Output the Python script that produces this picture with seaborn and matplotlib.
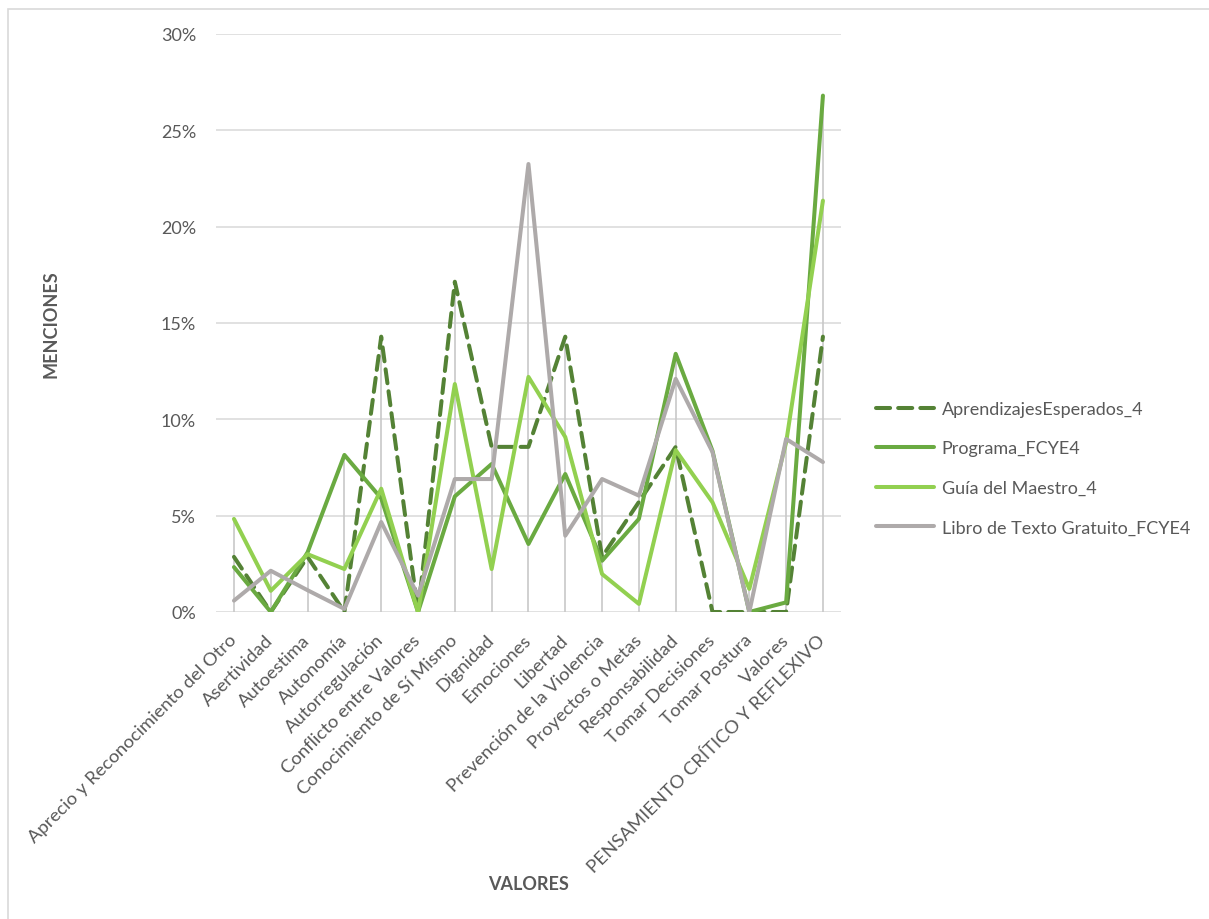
import numpy as np
import pandas as pd
import seaborn as sns
import matplotlib.pyplot as plt
from matplotlib.patches import Rectangle
from matplotlib.ticker import PercentFormatter

# Categorias (eje X)
valores = [
    "Aprecio y Reconocimiento del Otro", "Asertividad", "Autoestima", "Autonomía",
    "Autorregulación", "Conflicto entre Valores", "Conocimiento de Sí Mismo",
    "Dignidad", "Emociones", "Libertad", "Prevención de la Violencia",
    "Proyectos o Metas", "Responsabilidad", "Tomar Decisiones", "Tomar Postura",
    "Valores", "PENSAMIENTO CRÍTICO Y REFLEXIVO",
]

# Porcentaje de menciones por fuente
aprendizajes = [2.86, 0, 2.86, 0, 14.29, 0, 17.14, 8.57, 8.57, 14.29, 2.86, 5.71, 8.57, 0, 0, 0, 14.29]
programa = [2.33, 0, 3.1, 8.15, 5.9, 0, 6.0, 7.68, 3.53, 7.16, 2.66, 4.83, 13.4, 8.36, 0, 0.5, 26.8]
guia = [4.83, 1.1, 3.0, 2.23, 6.4, 0, 11.83, 2.23, 12.2, 9.08, 1.97, 0.42, 8.4, 5.69, 1.2, 8.8, 21.35]
libro = [0.59, 2.14, 1.13, 0.16, 4.67, 0.85, 6.9, 6.9, 23.25, 3.96, 6.9, 6.04, 12.1, 8.3, 0, 8.98, 7.78]

series = {
    "AprendizajesEsperados_4": aprendizajes,
    "Programa_FCYE4": programa,
    "Guía del Maestro_4": guia,
    "Libro de Texto Gratuito_FCYE4": libro,
}
colores = {
    "AprendizajesEsperados_4": "#548235",
    "Programa_FCYE4": "#6AAA41",
    "Guía del Maestro_4": "#92D050",
    "Libro de Texto Gratuito_FCYE4": "#AEAAAA",
}
estilos = {
    "AprendizajesEsperados_4": (3.5, 2),
    "Programa_FCYE4": "",
    "Guía del Maestro_4": "",
    "Libro de Texto Gratuito_FCYE4": "",
}

pos = np.arange(len(valores))
df = pd.concat(
    [pd.DataFrame({"pos": pos, "pct": v, "serie": k}) for k, v in series.items()],
    ignore_index=True,
)

sns.set_style("white")
plt.rcParams["font.family"] = ["Lato", "DejaVu Sans"]
gris = "#595959"

fig = plt.figure(figsize=(12.09, 9.2), dpi=100)
ax = fig.add_axes([0.1783, 0.3337, 0.5176, 0.6283])

# Lineas de proyeccion hasta el valor maximo de cada categoria
maximos = df.groupby("pos")["pct"].max()
ax.vlines(maximos.index, 0, maximos.values, color="#C8C8C8", lw=1.2, zorder=1)

sns.lineplot(
    data=df, x="pos", y="pct", hue="serie", style="serie",
    palette=colores, dashes=estilos, linewidth=2.9, sort=False, ax=ax, zorder=3,
)
for ln in ax.get_lines():
    ln.set_dash_capstyle("round")

ax.set_xlim(-0.5, len(valores) - 0.5)
ax.set_ylim(0, 30)
ax.set_yticks(np.arange(0, 31, 5))
ax.yaxis.set_major_formatter(PercentFormatter(xmax=100, decimals=0))
ax.yaxis.grid(True, color="#D9D9D9", lw=1.1, zorder=0)
ax.xaxis.grid(False)
for s in ax.spines.values():
    s.set_visible(False)

ax.set_xticks(pos)
ax.set_xticklabels(valores, rotation=45, ha="right", va="center",
                   rotation_mode="anchor")
ax.tick_params(axis="x", length=0, pad=18, labelsize=13.3, labelcolor=gris)
ax.tick_params(axis="y", length=0, pad=14, labelsize=13, labelcolor=gris)

ax.set_xlabel("VALORES", fontsize=13, fontweight="bold", color=gris)
ax.set_ylabel("MENCIONES", fontsize=13, fontweight="bold", color=gris)
ax.xaxis.set_label_coords(0.5, -0.455)
ax.yaxis.set_label_coords(-0.25, 0.5)

h, l = ax.get_legend_handles_labels()
ax.legend(h, l, loc="center left", bbox_to_anchor=(0.7245, 0.49),
          bbox_transform=fig.transFigure, frameon=False, fontsize=13,
          labelcolor=gris, handlelength=3.2, handletextpad=0.45,
          labelspacing=1.3, borderpad=0, borderaxespad=0)

# Marco del grafico
fig.patches.append(Rectangle((0.0066, -0.05), 1.1, 1.039, transform=fig.transFigure,
                             fill=False, ec="#D9D9D9", lw=1.2))

plt.savefig("out.png", dpi=100)
